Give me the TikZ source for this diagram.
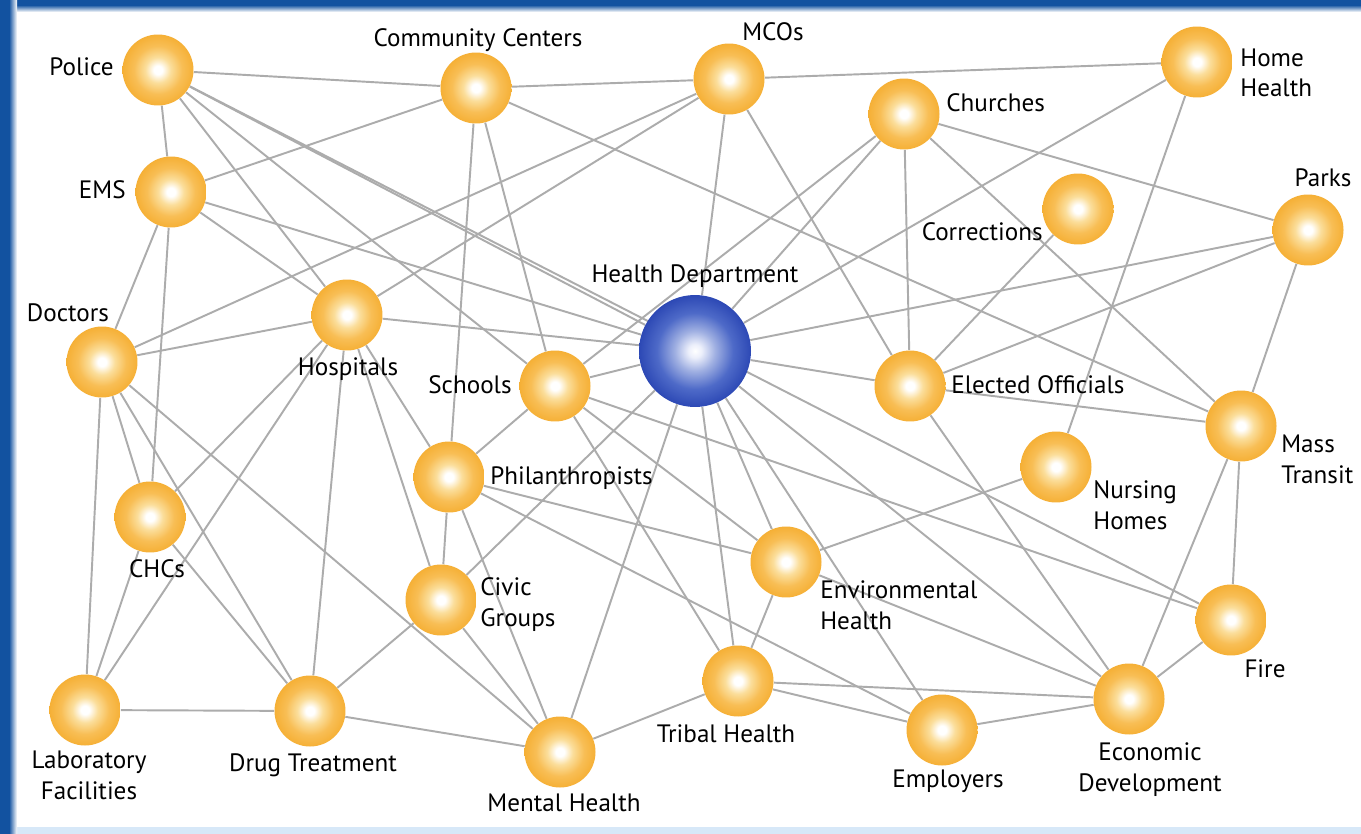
\documentclass[tikz,border=0pt]{standalone}
\usepackage{fontspec}
\setmainfont{PT Sans}
\usetikzlibrary{backgrounds}

\definecolor{linkgray}{RGB}{172,172,172}
\definecolor{frameblue}{RGB}{18,82,160}
\definecolor{framelight}{RGB}{215,232,248}
\definecolor{orbedge}{RGB}{245,174,50}
\definecolor{orbmid}{RGB}{248,190,85}
\definecolor{orbpale}{RGB}{251,222,155}
\definecolor{hubedge}{RGB}{36,64,176}
\definecolor{hubmid}{RGB}{78,106,200}
\definecolor{hubpale}{RGB}{160,176,226}
\definecolor{hubwhite}{RGB}{236,239,251}

\pgfdeclareradialshading{orbshade}{\pgfpoint{0bp}{0bp}}{%
  color(0bp)=(white); color(3bp)=(white); color(9bp)=(orbpale);
  color(17bp)=(orbmid); color(26bp)=(orbedge); color(50bp)=(orbedge)}
\pgfdeclareradialshading{hubshade}{\pgfpoint{0bp}{0bp}}{%
  color(0bp)=(white); color(3bp)=(hubwhite); color(9bp)=(hubpale);
  color(17bp)=(hubmid); color(27bp)=(hubedge); color(50bp)=(hubedge)}

\begin{document}
\begin{tikzpicture}[x=0.02cm,y=-0.02cm]
  \tikzset{
    orb/.style={circle,shade,shading=orbshade,inner sep=0pt,minimum size=1.42cm},
    hub/.style={circle,shade,shading=hubshade,inner sep=0pt,minimum size=2.24cm},
    lbl/.style={inner sep=0pt,font=\fontsize{14.3}{17.6}\selectfont,align=left},
    link/.style={draw=linkgray,line width=1.1pt}
  }
  \useasboundingbox (0,0) rectangle (1361,834);

  % partners
  \node[orb] (police) at (158,70) {};
  \node[orb] (comm) at (476,88) {};
  \node[orb] (mco) at (729,79) {};
  \node[orb] (home) at (1197,62) {};
  \node[orb] (church) at (904,114) {};
  \node[orb] (corr) at (1078,209) {};
  \node[orb] (parks) at (1308,230) {};
  \node[orb] (ems) at (171,192) {};
  \node[orb] (doc) at (102,362) {};
  \node[orb] (hosp) at (347,315) {};
  \node[hub] (hd) at (695,351) {};
  \node[orb] (school) at (555,386) {};
  \node[orb] (elect) at (910,386) {};
  \node[orb] (transit) at (1241,426) {};
  \node[orb] (nurse) at (1056,467) {};
  \node[orb] (phil) at (449,477) {};
  \node[orb] (chc) at (150,517) {};
  \node[orb] (env) at (786,562) {};
  \node[orb] (civic) at (441,600) {};
  \node[orb] (fire) at (1231,620) {};
  \node[orb] (lab) at (85,710) {};
  \node[orb] (drug) at (310,711) {};
  \node[orb] (tribal) at (738,681) {};
  \node[orb] (mental) at (560,752) {};
  \node[orb] (employ) at (942,730) {};
  \node[orb] (econ) at (1129,699) {};

  % names
  \node[lbl,anchor=base east] (policeL) at (114,76) {Police};
  \node[lbl,anchor=base] (commL) at (478,47) {Community Centers};
  \node[lbl,anchor=base] (mcoL) at (773,41) {MCOs};
  \node[lbl,anchor=base west] (homeL) at (1240,97) {Home\\Health};
  \node[lbl,anchor=base west] (churchL) at (946,112) {Churches};
  \node[lbl,anchor=base east] (corrL) at (1043,241) {Corrections};
  \node[lbl,anchor=base] (parksL) at (1323,187) {Parks};
  \node[lbl,anchor=base east] (emsL) at (126,199) {EMS};
  \node[lbl,anchor=base] (docL) at (68,321) {Doctors};
  \node[lbl,anchor=base] (hdL) at (695,283) {Health Department};
  \node[lbl,anchor=base] (hospL) at (348,375) {Hospitals};
  \node[lbl,anchor=base east] (schoolL) at (512,393) {Schools};
  \node[lbl,anchor=base west] (electL) at (951,393) {Elected Officials};
  \node[lbl,anchor=base west] (transitL) at (1281,483) {Mass\\Transit};
  \node[lbl,anchor=base west] (nurseL) at (1093,529) {Nursing\\Homes};
  \node[lbl,anchor=base west] (philL) at (490,484) {Philanthropists};
  \node[lbl,anchor=base] (chcL) at (157,577) {CHCs};
  \node[lbl,anchor=base west] (envL) at (820,629) {Environmental\\Health};
  \node[lbl,anchor=base west] (civicL) at (480,626) {Civic\\Groups};
  \node[lbl,anchor=base] (fireL) at (1265,677) {Fire};
  \node[lbl,anchor=base,align=center] (labL) at (89,799) {Laboratory\\Facilities};
  \node[lbl,anchor=base] (drugL) at (313,771) {Drug Treatment};
  \node[lbl,anchor=base] (tribalL) at (726,742) {Tribal Health};
  \node[lbl,anchor=base] (mentalL) at (564,811) {Mental Health};
  \node[lbl,anchor=base] (employL) at (948,787) {Employers};
  \node[lbl,anchor=base,align=center] (econL) at (1150,791) {Economic\\Development};

  \begin{scope}[on background layer]
    % frame
    \fill[white] (0,0) rectangle (1361,834);
    \fill[framelight] (0,827) rectangle (1361,834);
    \shade[top color=frameblue,bottom color=white] (0,5) rectangle (1361,12);
    \fill[frameblue] (0,0) rectangle (1361,5);
    \shade[left color=frameblue,right color=white] (9,0) rectangle (17,834);
    \fill[frameblue] (0,0) rectangle (9,834);

    % links
    \draw[link] (police) edge (comm)
          (police) edge (ems)
          (police) edge (hosp)
          (police) edge (school)
          (police) edge (hd)
          (police) edge (fire)
          (comm) edge (mco)
          (comm) edge (ems)
          (comm) edge (phil)
          (comm) edge (school)
          (comm) edge (transit)
          (mco) edge (home)
          (mco) edge (hosp)
          (mco) edge (doc)
          (mco) edge (hd)
          (mco) edge (elect)
          (home) edge (hd)
          (home) edge (nurse)
          (church) edge (parks)
          (church) edge (transit)
          (church) edge (elect)
          (church) edge (hd)
          (church) edge (school)
          (corr) edge (elect)
          (parks) edge (transit)
          (parks) edge (hd)
          (parks) edge (elect)
          (ems) edge (doc)
          (ems) edge (chc)
          (ems) edge (hd)
          (ems) edge (hosp)
          (doc) edge (hosp)
          (doc) edge (lab)
          (doc) edge (chc)
          (doc) edge (drug)
          (doc) edge (mental)
          (hosp) edge (hd)
          (hosp) edge (phil)
          (hosp) edge (civic)
          (hosp) edge (drug)
          (hosp) edge (chc)
          (hosp) edge (lab)
          (hd) edge (school)
          (hd) edge (civic)
          (hd) edge (mental)
          (hd) edge (tribal)
          (hd) edge (env)
          (hd) edge (employ)
          (hd) edge (econ)
          (hd) edge (elect)
          (school) edge (phil)
          (school) edge (fire)
          (school) edge (env)
          (school) edge (tribal)
          (elect) edge (transit)
          (elect) edge (econ)
          (transit) edge (econ)
          (transit) edge (fire)
          (nurse) edge (env)
          (phil) edge (civic)
          (phil) edge (env)
          (phil) edge (mental)
          (phil) edge (employ)
          (chc) edge (lab)
          (chc) edge (drug)
          (civic) edge (drug)
          (civic) edge (mental)
          (env) edge (tribal)
          (env) edge (econ)
          (fire) edge (econ)
          (lab) edge (drug)
          (drug) edge (mental)
          (tribal) edge (mental)
          (tribal) edge (econ)
          (tribal) edge (employ)
          (employ) edge (econ);
  \end{scope}
\end{tikzpicture}
\end{document}
